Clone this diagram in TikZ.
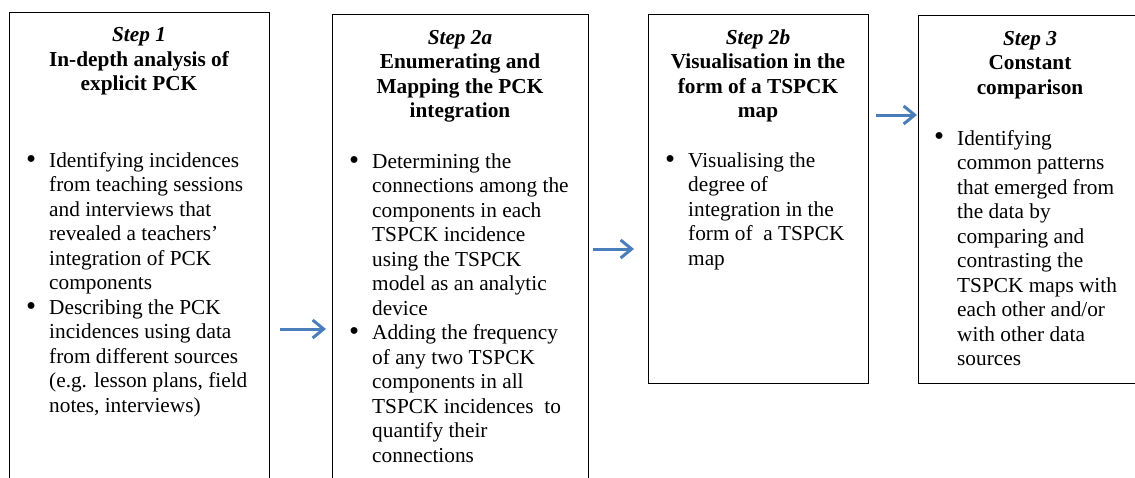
\documentclass[tikz,border=0pt]{standalone}
\usepackage{fontspec}
\usepackage{graphicx}
\setmainfont{Liberation Serif}
\usetikzlibrary{arrows.meta}
\definecolor{arrowblue}{RGB}{74,126,187}
\newcommand{\bul}{\llap{\raisebox{-0.8pt}{\scalebox{1.35}{\textbullet}}\hspace{13pt}}}
\begin{document}
\begin{tikzpicture}[x=1pt,y=-1pt,
  box/.style={draw=black, line width=1.2pt, anchor=north west, inner sep=0pt},
  title/.style={anchor=base, align=center, inner sep=0pt,
    font=\fontsize{21.3}{24.5}\selectfont\bfseries},
  item/.style={anchor=base west, align=left, inner sep=0pt,
    font=\fontsize{21.3}{24.5}\selectfont},
  flow/.style={draw=arrowblue, line width=3pt,
    -{Straight Barb[length=11pt,width=18pt]}}
]
\useasboundingbox (0,0) rectangle (1135,477);
% boxes
\node[box, minimum width=260pt, minimum height=490pt] (b1) at (9,12) {};
\node[box, minimum width=256pt, minimum height=490pt] (b2a) at (332,14) {};
\node[box, minimum width=220pt, minimum height=369pt] (b2b) at (648,14) {};
\node[box, minimum width=230pt, minimum height=368pt] (b3) at (918,15) {};
% titles (anchored at the baseline of their last line)
\node[title] (t1) at (139,90.7) {\textit{Step 1}\\In-depth analysis of\\explicit PCK};
\node[title] (t2a) at (460,117.5) {\textit{Step 2a}\\Enumerating and\\Mapping the PCK\\integration};
\node[title] (t2b) at (758,117.5) {\textit{Step 2b}\\Visualisation in the\\form of a TSPCK\\map};
\node[title] (t3) at (1030,94) {\textit{Step 3}\\Constant\\comparison};
% bullet texts (anchored at the baseline of their last line)
\node[item] (i1) at (49,412.3) {\bul Identifying incidences\\
from teaching sessions\\
and interviews that\\
revealed a teachers’\\
integration of PCK\\
components\\
\bul Describing the PCK\\
incidences using data\\
from different sources\\
(e.g. lesson plans, field\\
notes, interviews)};
\node[item] (i2a) at (372,462.3) {\bul Determining the\\
connections among the\\
components in each\\
TSPCK incidence\\
using the TSPCK\\
model as an analytic\\
device\\
\bul Adding the frequency\\
of any two TSPCK\\
components in all\\
TSPCK incidences\ \ to\\
quantify their\\
connections};
\node[item] (i2b) at (688,265.3) {\bul Visualising the\\
degree of\\
integration in the\\
form of\ \ a TSPCK\\
map};
\node[item] (i3) at (957,365.5) {\bul Identifying\\
common patterns\\
that emerged from\\
the data by\\
comparing and\\
contrasting the\\
TSPCK maps with\\
each other and/or\\
with other data\\
sources};
% arrows
\coordinate (y1) at (0,329);
\coordinate (y2) at (0,249);
\coordinate (y3) at (0,115);
\draw[flow, shorten <=10pt, shorten >=6pt] (b1.east |- y1) -- (b2a.west |- y1);
\draw[flow, shorten <=4pt, shorten >=14pt] (b2a.east |- y2) -- (b2b.west |- y2);
\draw[flow, shorten <=7pt, shorten >=1pt] (b2b.east |- y3) -- (b3.west |- y3);
\end{tikzpicture}
\end{document}
